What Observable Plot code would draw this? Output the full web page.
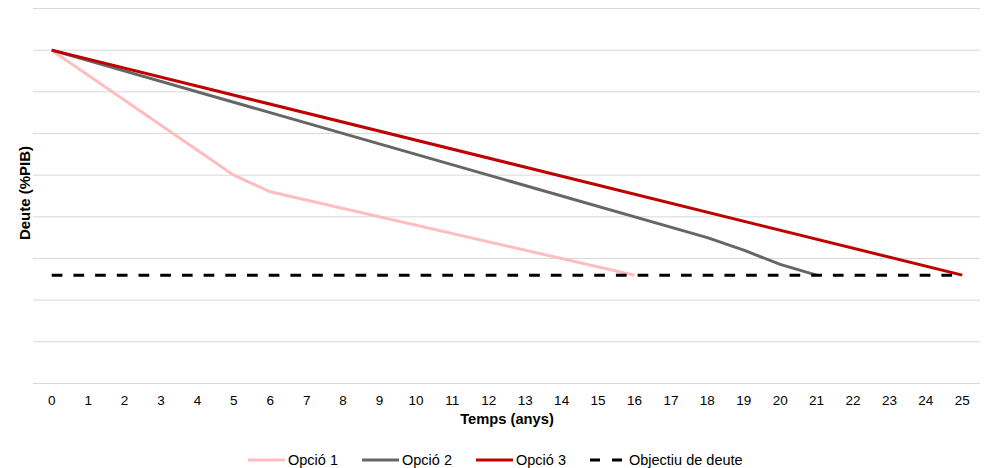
<!DOCTYPE html>
<html><head><meta charset="utf-8">
<script src="https://cdn.jsdelivr.net/npm/d3@7"></script>
<script src="https://cdn.jsdelivr.net/npm/@observablehq/plot@0.6"></script>
<style>
body{margin:0;background:#fff;font-family:"Liberation Sans",Arial,sans-serif;}
#chart{position:relative;width:996px;height:468px;overflow:hidden;}
#chart g[aria-label="x-axis tick label"]{font-size:13.5px;}
#chart g[aria-label="x-axis tick label"] text{font-size:13.5px;}
#legend{position:absolute;left:248px;top:452px;display:flex;align-items:center;font-size:14.5px;color:#000;white-space:nowrap;}
.item{display:flex;align-items:center;margin-right:24px;}
.item svg{margin-right:3px;}
</style></head><body><div id="chart"></div>
<script>
// Data (y in arbitrary %PIB units, gridline every 10)
const opcio1Years = [0, 5, 6, 16];
const opcio1Values = [80, 50, 46, 26];
const opcio2Years = [0, 18, 19, 20, 21];
const opcio2Values = [80, 35, 32, 28.6, 26];
const opcio3Years = [0, 25];
const opcio3Values = [80, 26];
const objectiuYears = [0, 25];
const objectiuValues = [26, 26];
const xTicks = [0,1,2,3,4,5,6,7,8,9,10,11,12,13,14,15,16,17,18,19,20,21,22,23,24,25];
const yGrid = [0,10,20,30,40,50,60,70,80,90];
const seriesNames = ["Opció 1", "Opció 2", "Opció 3", "Objectiu de deute"];
const seriesColors = ["#FFBDBD", "#666666", "#C00000", "#000000"];
const seriesDash = [null, null, null, "10.7,11"];
const xTitle = "Temps (anys)";
const yTitle = "Deute (%PIB)";

const toRows = (xs, ys) => xs.map((x, i) => ({x, y: ys[i]}));
const series = [
  toRows(opcio1Years, opcio1Values),
  toRows(opcio2Years, opcio2Values),
  toRows(opcio3Years, opcio3Values),
  toRows(objectiuYears, objectiuValues)
];

const font = "Liberation Sans, Arial, sans-serif";
const plot = Plot.plot({
  width: 996, height: 440,
  marginTop: 8, marginBottom: 57, marginLeft: 33, marginRight: 16,
  x: {domain: [-0.5, 25.5], axis: null},
  y: {domain: [0, 90], axis: null},
  style: {fontFamily: font, fontSize: "14px", color: "#000", background: "#fff"},
  marks: [
    Plot.gridY(yGrid, {stroke: "#d9d9d9", strokeOpacity: 1, strokeWidth: 1}),
    Plot.axisX(xTicks, {tickSize: 0, tickPadding: 12, label: null, tickFormat: d => String(d), fontSize: 13.5, fill: "#000"}),
    Plot.text([xTitle], {frameAnchor: "bottom", dy: 40, fontWeight: "bold", fontSize: 14.7, fill: "#000"}),
    Plot.text([yTitle], {frameAnchor: "left", textAnchor: "middle", rotate: -90, dx: -8, dy: -3, fontWeight: "bold", fontSize: 15, fill: "#000"}),
    ...series.map((rows, i) => Plot.line(rows, {
      x: "x", y: "y", stroke: seriesColors[i], strokeWidth: 3,
      strokeDasharray: seriesDash[i] || undefined,
      strokeLinejoin: "round", strokeLinecap: "butt"
    }))
  ]
});
const chart = document.getElementById("chart");
chart.appendChild(plot);

const legend = document.createElement("div");
legend.id = "legend";
seriesNames.forEach((name, i) => {
  const item = document.createElement("div");
  item.className = "item";
  const w = i === 3 ? 36 : 37;
  const dash = seriesDash[i] ? `stroke-dasharray="10,12"` : "";
  item.innerHTML = `<svg width="${w}" height="6"><line x1="0" x2="${w}" y1="3" y2="3" stroke="${seriesColors[i]}" stroke-width="3" ${dash}/></svg><span>${name}</span>`;
  legend.appendChild(item);
});
chart.appendChild(legend);
</script>
</body></html>
